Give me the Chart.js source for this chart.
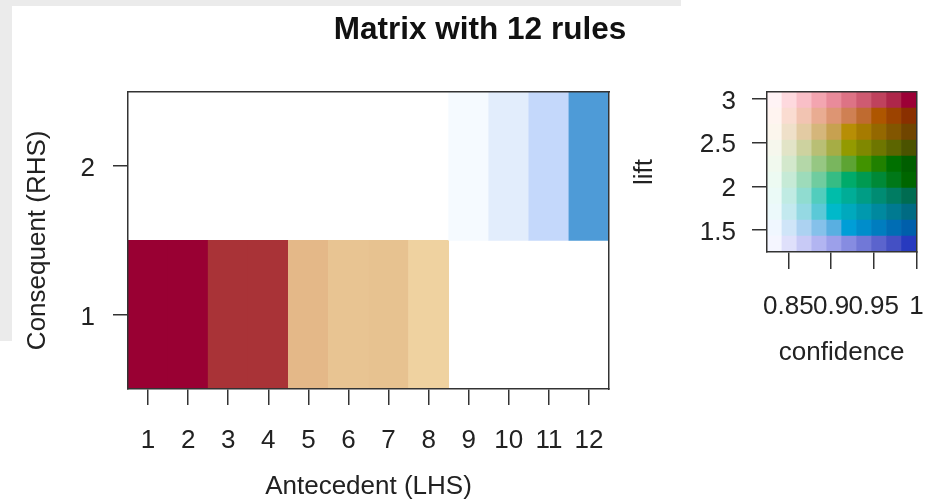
<!DOCTYPE html>
<html>
<head>
<meta charset="utf-8">
<script src="https://cdn.jsdelivr.net/npm/chart.js@4/dist/chart.umd.min.js"></script>
<style>
  html, body { margin: 0; padding: 0; width: 946px; height: 502px; overflow: hidden; background: #fff; }
  #frame { position: absolute; left: 0; top: 0; width: 681px; height: 341px; background: #ebebeb; }
  #sheet { position: absolute; left: 12px; top: 6px; width: 934px; height: 496px; background: #fff; }
  #matrix { position: absolute; left: 14px; top: 0; }
  #key { position: absolute; left: 620px; top: 0; }
</style>
</head>
<body>
<div id="frame"></div>
<div id="sheet"></div>
<canvas id="matrix" width="932" height="502"></canvas>
<canvas id="key" width="326" height="400"></canvas>
<script>
// ---- data -------------------------------------------------------------
const titleText = 'Matrix with 12 rules';
const antecedents = [1, 2, 3, 4, 5, 6, 7, 8, 9, 10, 11, 12];   // LHS index of each rule
const consequents = [1, 1, 1, 1, 1, 1, 1, 1, 2, 2, 2, 2];      // RHS index of each rule
const consequentTicks = [1, 2];

// colour key: confidence (x) and lift (y) bins
const confBreaks = [0.825, 0.8425, 0.86, 0.8775, 0.895, 0.9125, 0.93, 0.9475, 0.965, 0.9825, 1.0];
const liftBreaks = [1.248, 1.4312, 1.6144, 1.7976, 1.9808, 2.164, 2.3472, 2.5304, 2.7136, 2.8968, 3.08];
const confTicks = [0.85, 0.9, 0.95, 1];
const confTickLabels = ['0.85', '0.9', '0.95', '1'];
const liftTicks = [1.5, 2, 2.5, 3];
const liftTickLabels = ['1.5', '2', '2.5', '3'];

// ---- styles -----------------------------------------------------------
const ruleColors = ['#990033', '#990033', '#a93337', '#a93337', '#e4b888', '#e8c492',
                    '#e7c290', '#efd2a0', '#f5faff', '#e2edfc', '#c4d8fb', '#4e9bd7'];
// HCL palette of the key: hue per lift row (bottom to top), luminance/chroma per confidence column
const keyHues = [264, 235, 206, 177, 148, 119, 90, 61, 32, 3];
const keyLum = [97, 89.8, 82.6, 75.4, 68.2, 61, 53.8, 46.6, 39.4, 32.2];
const keyChroma = [8, 22, 36, 50, 62, 72, 80, 87, 92, 96];

const axisColor = '#333';
const textColor = '#222';
const fontFamily = "'Liberation Sans', Arial, Helvetica, sans-serif";

// polar CIE-LUV -> sRGB hex, clipped into gamut
function hcl(h, c, l) {
  const un = 0.1978398, vn = 0.4683363;
  const hr = h * Math.PI / 180;
  const U = c * Math.cos(hr), V = c * Math.sin(hr);
  const Y = l > 7.999592 ? Math.pow((l + 16) / 116, 3) : l / 903.3;
  let X = 0, Z = 0;
  if (l > 0) {
    const u = U / (13 * l) + un, v = V / (13 * l) + vn;
    X = 9 * Y * u / (4 * v);
    Z = -X / 3 - 5 * Y + 3 * Y / v;
  }
  const lin = [
    3.240479 * X - 1.537150 * Y - 0.498535 * Z,
    -0.969256 * X + 1.875992 * Y + 0.041556 * Z,
    0.055648 * X - 0.204043 * Y + 1.057311 * Z
  ];
  return '#' + lin.map(t => {
    let g = t <= 0.0031308 ? 12.92 * t : 1.055 * Math.pow(Math.max(t, 0), 1 / 2.4) - 0.055;
    g = Math.min(1, Math.max(0, g));
    return Math.round(g * 255).toString(16).padStart(2, '0');
  }).join('');
}

Chart.defaults.font.family = fontFamily;
Chart.defaults.font.size = 26;
Chart.defaults.color = textColor;

// an axis that only draws a frame edge of the plot box
function frameAxis(position, size) {
  return {
    type: 'linear', position, display: true,
    grid: { display: false },
    ticks: { display: false },
    border: { display: true, color: axisColor, width: 1.5, z: 1 },
    afterFit: s => { if (s.isHorizontal()) s.height = size; else s.width = size; }
  };
}

function tickAxis(opts) {
  return {
    type: 'linear', offset: false,
    min: opts.min, max: opts.max,
    afterBuildTicks: s => { s.ticks = opts.ticks.map(v => ({ value: v })); },
    grid: { display: true, drawOnChartArea: false, drawTicks: true, tickLength: opts.tickLength,
            color: axisColor, lineWidth: 1.5, offset: false },
    border: { display: true, color: axisColor, width: 1.5, z: 1 },
    ticks: { padding: opts.padding, labelOffset: opts.labelOffset || 0, autoSkip: false,
             maxRotation: 0, minRotation: 0, callback: (v, i) => opts.labels[i] },
    title: { display: true, text: opts.title, padding: opts.titlePadding },
    afterFit: s => { if (s.isHorizontal()) s.height = opts.size; else s.width = opts.size; }
  };
}

// ---- rule matrix ------------------------------------------------------
new Chart(document.getElementById('matrix'), {
  type: 'bar',
  data: {
    datasets: [{
      data: antecedents.map((a, i) => ({ x: a, y: [consequents[i] - 0.5, consequents[i] + 0.5] })),
      backgroundColor: ruleColors,
      borderWidth: 0,
      barPercentage: 1,
      categoryPercentage: 1
    }]
  },
  options: {
    responsive: false,
    animation: false,
    layout: { padding: 0 },
    plugins: {
      legend: { display: false },
      tooltip: { enabled: false },
      title: {
        display: true, text: titleText, color: '#111',
        font: { size: 31.5, weight: 'bold' },
        padding: { top: 11.4, bottom: 42.4 }
      }
    },
    scales: {
      x: tickAxis({ min: 0.5, max: 12.5, ticks: antecedents, labels: antecedents.map(String),
                    tickLength: 16, padding: 20.5, title: 'Antecedent (LHS)',
                    titlePadding: { top: 0, bottom: 0 }, size: 113 }),
      y: tickAxis({ min: 0.5, max: 2.5, ticks: consequentTicks, labels: consequentTicks.map(String),
                    tickLength: 15, padding: 18, labelOffset: 3, title: 'Consequent (RHS)',
                    titlePadding: { top: 8.4, bottom: 0 }, size: 114 }),
      xTop: frameAxis('top', 0),
      yRight: frameAxis('right', 337)
    }
  }
});

// ---- colour key -------------------------------------------------------
const keyDatasets = keyHues.map((h, r) => ({
  data: keyLum.map((l, c) => ({
    x: (confBreaks[c] + confBreaks[c + 1]) / 2,
    y: [liftBreaks[r], liftBreaks[r + 1]]
  })),
  backgroundColor: keyLum.map((l, c) => hcl(h, keyChroma[c], l)),
  grouped: false,
  borderWidth: 0,
  barPercentage: 1,
  categoryPercentage: 1
}));

new Chart(document.getElementById('key'), {
  type: 'bar',
  data: { datasets: keyDatasets },
  options: {
    responsive: false,
    animation: false,
    layout: { padding: { top: 92, right: 22, left: 0, bottom: 0 } },
    plugins: { legend: { display: false }, tooltip: { enabled: false } },
    scales: {
      x: tickAxis({ min: confBreaks[0], max: confBreaks[confBreaks.length - 1], ticks: confTicks,
                    labels: confTickLabels, tickLength: 17, padding: 22.4, title: 'confidence',
                    titlePadding: { top: 0, bottom: 31.4 }, size: 148 }),
      y: tickAxis({ min: liftBreaks[0], max: liftBreaks[liftBreaks.length - 1], ticks: liftTicks,
                    labels: liftTickLabels, tickLength: 15, padding: 16, labelOffset: 2.5, title: 'lift',
                    titlePadding: { top: 9.4, bottom: 0 }, size: 147 }),
      xTop: frameAxis('top', 0),
      yRight: frameAxis('right', 0)
    }
  }
});
</script>
</body>
</html>
